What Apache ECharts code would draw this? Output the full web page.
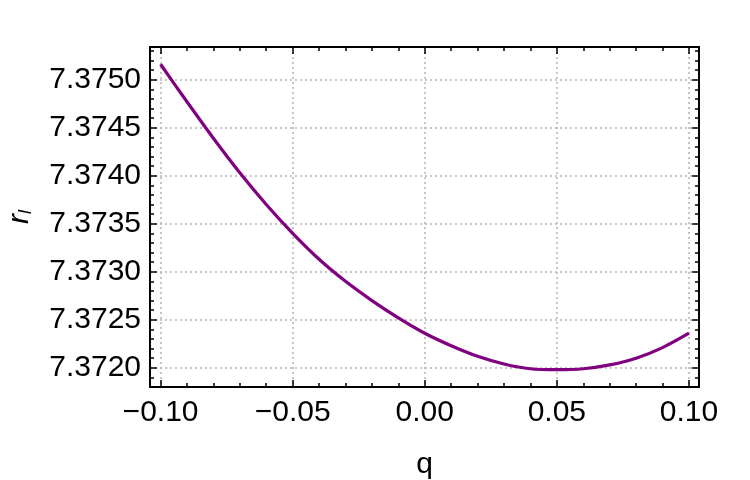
<!DOCTYPE html>
<html>
<head>
<meta charset="utf-8">
<script src="https://cdn.jsdelivr.net/npm/echarts@6/dist/echarts.min.js"></script>
<style>
  html, body { margin: 0; padding: 0; background: #fff; }
  #chart { width: 750px; height: 480px; }
</style>
</head>
<body>
<div id="chart"></div>
<script>
// data
var qValues = [-0.10, -0.09, -0.08, -0.07, -0.06, -0.05, -0.04, -0.03, -0.02, -0.01,
               0.00, 0.01, 0.02, 0.03, 0.04, 0.05, 0.06, 0.07, 0.08, 0.09, 0.10];
var rValues = [7.37516, 7.37477, 7.37439, 7.37403, 7.37370, 7.37340, 7.37313, 7.37290, 7.37270, 7.37252,
               7.37236, 7.37223, 7.37212, 7.37204, 7.37199, 7.37198, 7.37199, 7.37203, 7.37210, 7.37221, 7.37236];

var xMajor = [-0.10, -0.05, 0.00, 0.05, 0.10];
var yMajor = [7.3720, 7.3725, 7.3730, 7.3735, 7.3740, 7.3745, 7.3750];

var xMinor = [];
for (var i = -10; i <= 10; i++) xMinor.push(i / 100);
var yMinor = [];
for (var j = 73718; j <= 73753; j++) yMinor.push(j / 10000);

var xMin = -0.104, xMax = 0.1038;
var yMin = 7.37180, yMax = 7.37534;

var fontName = 'Liberation Sans';
var frameColor = '#000';
var gridColor = '#b4b4b4';
var lineColor = '#800080';

function fmtX(v) {
    var s = Math.abs(v).toFixed(2);
    return v < -1e-9 ? '\u2212' + s : s;
}

function makeAxis(kind, pos, ticks, len, main) {
    var a = {
        type: 'value',
        position: pos,
        min: kind === 'x' ? xMin : yMin,
        max: kind === 'x' ? xMax : yMax,
        axisLine: { show: main, onZero: false, lineStyle: { color: frameColor, width: 2 } },
        axisTick: { show: true, inside: true, length: len, customValues: ticks,
                    lineStyle: { color: frameColor, width: 1.5 } },
        axisLabel: { show: false },
        splitLine: { show: false }
    };
    return a;
}

var xAxes = [
    makeAxis('x', 'bottom', xMajor, 7, true),
    makeAxis('x', 'bottom', xMinor, 4, false),
    makeAxis('x', 'top', xMajor, 7, true),
    makeAxis('x', 'top', xMinor, 4, false)
];
xAxes[0].axisLabel = { show: true, customValues: xMajor, formatter: fmtX, margin: 11,
                       color: '#000', fontSize: 30, fontFamily: fontName };
xAxes[0].splitLine = { show: true, lineStyle: { color: gridColor, width: 1.5, type: [2, 3] } };
xAxes[0].name = 'q';
xAxes[0].nameLocation = 'middle';
xAxes[0].nameGap = 63;
xAxes[0].nameTextStyle = { color: '#000', fontSize: 30, fontFamily: fontName };

var yAxes = [
    makeAxis('y', 'left', yMajor, 7, true),
    makeAxis('y', 'left', yMinor, 4, false),
    makeAxis('y', 'right', yMajor, 7, true),
    makeAxis('y', 'right', yMinor, 4, false)
];
yAxes[0].axisLabel = { show: true, customValues: yMajor, margin: 9,
                       formatter: function (v) { return v.toFixed(4); },
                       color: '#000', fontSize: 30, fontFamily: fontName };
yAxes[0].splitLine = { show: true, lineStyle: { color: gridColor, width: 1.5, type: [2, 3] } };
yAxes[0].name = '{r|r}{l|l}';
yAxes[0].nameLocation = 'middle';
yAxes[0].nameGap = 115;
yAxes[0].nameTextStyle = {
    color: '#000',
    rich: {
        r: { fontSize: 30, fontStyle: 'italic', fontFamily: fontName, color: '#000' },
        l: { fontSize: 18, fontStyle: 'italic', fontFamily: fontName, color: '#000', padding: [13, 0, 0, 0] }
    }
};

var seriesData = qValues.map(function (q, k) { return [q, rValues[k]]; });

var myChart = echarts.init(document.getElementById('chart'));
myChart.setOption({
    animation: false,
    grid: { left: 150, right: 51, top: 47, bottom: 93, containLabel: false, outerBoundsMode: 'none' },
    xAxis: xAxes,
    yAxis: yAxes,
    series: [{
        type: 'line',
        xAxisIndex: 0,
        yAxisIndex: 0,
        smooth: 0.3,
        showSymbol: false,
        lineStyle: { color: lineColor, width: 3.2 },
        data: seriesData
    }]
});
</script>
</body>
</html>
